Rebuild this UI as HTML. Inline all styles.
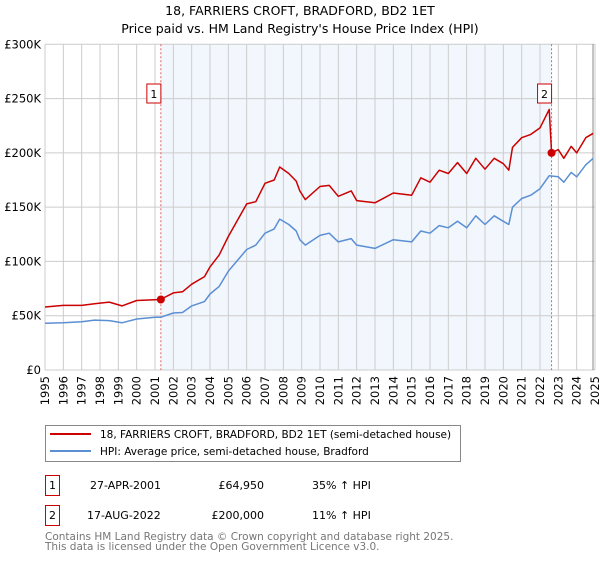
<!DOCTYPE html>
<html><head><meta charset="utf-8"><style>
body{margin:0;background:#fff;font-family:"DejaVu Sans","Liberation Sans",sans-serif;}
svg text{font-family:"DejaVu Sans","Liberation Sans",sans-serif;}
</style></head><body>
<svg id="c" width="600" height="560" viewBox="0 0 600 560" xmlns="http://www.w3.org/2000/svg">
<text x="300" y="15" text-anchor="middle" font-size="12.5">18, FARRIERS CROFT, BRADFORD, BD2 1ET</text>
<text x="300" y="33" text-anchor="middle" font-size="12.5">Price paid vs. HM Land Registry's House Price Index (HPI)</text>
<g id="plot"></g>
<g>
<rect x="45.5" y="425.5" width="415" height="36" fill="#fff" stroke="#888"/>
<line x1="50" y1="434" x2="91" y2="434" stroke="#cc0000" stroke-width="2"/>
<text x="100" y="438" font-size="10.5">18, FARRIERS CROFT, BRADFORD, BD2 1ET (semi-detached house)</text>
<line x1="50" y1="451" x2="91" y2="451" stroke="#5b8fd4" stroke-width="2"/>
<text x="100" y="455" font-size="10.5">HPI: Average price, semi-detached house, Bradford</text>
</g>
<g font-size="11">
<rect x="45.5" y="475.5" width="14" height="20" fill="#fff" stroke="#cc0000"/>
<text x="52.5" y="489" text-anchor="middle">1</text>
<text x="90" y="489">27-APR-2001</text>
<text x="264" y="489" text-anchor="end">£64,950</text>
<text x="312" y="489">35% ↑ HPI</text>
<rect x="45.5" y="505.5" width="14" height="20" fill="#fff" stroke="#cc0000"/>
<text x="52.5" y="519" text-anchor="middle">2</text>
<text x="87" y="519">17-AUG-2022</text>
<text x="264" y="519" text-anchor="end">£200,000</text>
<text x="312" y="519">11% ↑ HPI</text>
</g>
<text x="45" y="540" font-size="10.5" fill="#777">Contains HM Land Registry data © Crown copyright and database right 2025.</text>
<text x="45" y="550" font-size="10.5" fill="#777">This data is licensed under the Open Government Licence v3.0.</text>
</svg>
<script>
const yearTicks=[1995,1996,1997,1998,1999,2000,2001,2002,2003,2004,2005,2006,2007,2008,2009,2010,2011,2012,2013,2014,2015,2016,2017,2018,2019,2020,2021,2022,2023,2024,2025];
const valueTicks=[0,50000,100000,150000,200000,250000,300000];
const valueTickLabels=["£0","£50K","£100K","£150K","£200K","£250K","£300K"];
const hpiDates=[1995,1996,1997,1997.7,1998.5,1999.2,2000,2001,2001.3,2002,2002.5,2003,2003.7,2004,2004.5,2005,2005.4,2006,2006.5,2007,2007.5,2007.8,2008.3,2008.7,2008.9,2009.2,2010,2010.5,2011,2011.7,2012,2013,2014,2015,2015.5,2016,2016.5,2017,2017.5,2018,2018.5,2019,2019.5,2020,2020.3,2020.5,2021,2021.5,2022,2022.5,2023,2023.3,2023.7,2024,2024.5,2024.9];
const hpiValues=[43000,43500,44500,46000,45500,43500,47000,48500,48500,52500,53000,59000,63000,70000,77000,91000,99000,111000,115000,126000,130000,139000,134000,128000,120000,115000,124000,126000,118000,121000,115000,112000,120000,118000,128000,126000,133000,131000,137000,131000,142000,134000,142000,137000,134000,150000,158000,161000,167000,179000,178000,173000,182000,178000,189000,195000];
const propDates=[1995,1996,1997,1997.7,1998.5,1999.2,2000,2001.3,2002,2002.5,2003,2003.7,2004,2004.5,2005,2005.4,2006,2006.5,2007,2007.5,2007.8,2008.3,2008.7,2008.9,2009.2,2010,2010.5,2011,2011.7,2012,2013,2014,2015,2015.5,2016,2016.5,2017,2017.5,2018,2018.5,2019,2019.5,2020,2020.3,2020.5,2021,2021.5,2022,2022.5,2022.63,2023,2023.3,2023.7,2024,2024.5,2024.9];
const propValues=[58000,59500,59500,61000,62500,59000,64000,64950,71000,72000,79000,86000,95000,106000,123000,135000,153000,155000,172000,175000,187000,181000,174000,165000,157000,169000,170000,160000,165000,156000,154000,163000,161000,177000,173000,184000,181000,191000,181000,195000,185000,195000,190000,184000,205000,214000,217000,223000,240000,200000,203000,195000,206000,200000,214000,218000];
const saleDates=[2001.32,2022.63];
const salePrices=[64950,200000];
const saleLabels=["1","2"];

const X0=45,X1=595,Y0=370,Y1=44.3;
const xs=y=>X0+(y-1995)/30*(X1-X0);
const ys=v=>Y0-v/300000*(Y0-Y1);
const NS="http://www.w3.org/2000/svg";
const g=document.getElementById('plot');
function mk(t,a){const e=document.createElementNS(NS,t);for(const k in a)e.setAttribute(k,a[k]);g.appendChild(e);return e;}
const shade=mk('rect',{x:xs(saleDates[0]),y:Y1,width:xs(saleDates[1])-xs(saleDates[0]),height:Y0-Y1,fill:'#f2f6fd'});


yearTicks.forEach(yr=>{
  const l=mk('line',{x1:xs(yr),x2:xs(yr),y1:Y1,y2:Y0,stroke:'#cccccc','stroke-width':1});
  
  
  const t=mk('text',{x:0,y:0,'font-size':11.5,'text-anchor':'end',transform:`translate(${xs(yr)+4},${Y0+6}) rotate(-90)`});
  t.textContent=yr;
  
  
});
valueTicks.forEach((v,i)=>{
  const l=mk('line',{x1:X0,x2:X1,y1:ys(v),y2:ys(v),stroke:'#cccccc','stroke-width':1});
  
  
  const t=mk('text',{x:X0-4,y:ys(v)+4,'font-size':11.5,'text-anchor':'end'});
  t.textContent=valueTickLabels[i];
  
  
});
const ax=mk('line',{x1:X1-2,x2:X1-2,y1:Y1,y2:Y0,stroke:'#888','stroke-width':1});


saleDates.forEach((d,i)=>{
  const l=mk('line',{x1:xs(d),x2:xs(d),y1:Y1,y2:Y0,stroke:'#e06060','stroke-width':1,'stroke-dasharray':'2,2'});
  
  
});
function path(ds,vs,col,name){
  const p=mk('path',{d:ds.map((d,i)=>(i?'L':'M')+xs(d).toFixed(1)+','+ys(vs[i]).toFixed(1)).join(''),fill:'none',stroke:col,'stroke-width':1.5,'stroke-linejoin':'round'});
  
  
}
path(hpiDates,hpiValues,'#5b8fd4','hpi-line');
path(propDates,propValues,'#cc0000','property-price-line');
saleDates.forEach((d,i)=>{
  const c=mk('circle',{cx:xs(d),cy:ys(salePrices[i]),r:4,fill:'#cc0000'});
  
  
  const bx=xs(d)-10;
  const r=mk('rect',{x:bx-4,y:84,width:14,height:19,fill:'#fff',stroke:'#cc0000'});
  
  
  const t=mk('text',{x:bx+3,y:98,'font-size':11,'text-anchor':'middle'});
  t.textContent=saleLabels[i];
  
  
});
</script>
</body></html>
